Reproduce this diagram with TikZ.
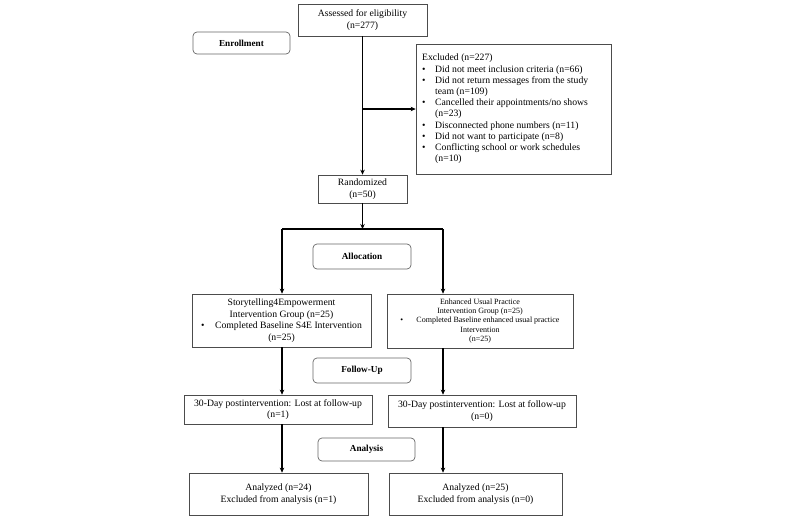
\documentclass[tikz,border=0pt]{standalone}
\usepackage{fontspec}
\setmainfont{Liberation Serif}
\usetikzlibrary{arrows.meta}
\newcommand{\fsn}{\fontsize{9.7}{11.6}\selectfont}
\newcommand{\fse}{\fontsize{9.7}{11.2}\selectfont}
\newcommand{\fss}{\fontsize{8}{9.4}\selectfont}
\newcommand{\fsb}{\fontsize{9.2}{10}\selectfont\bfseries}
\newcommand{\bul}{\makebox[13pt][l]{\textbullet}}
\tikzset{
  box/.style={draw=black!70, line width=0.7pt, inner sep=0pt, align=center, font=\fsn},
  phase/.style={draw=black!60, line width=0.7pt, rounded corners=4pt, inner sep=0pt, font=\fsb},
  arr/.style={line width=1.6pt, -{Stealth[length=5pt,width=4.5pt]}},
  ln/.style={line width=1.6pt}
}
\begin{document}
\begin{tikzpicture}[x=1pt,y=-1pt]
\useasboundingbox (0,0) rectangle (800,520);
\node[box, minimum width=129pt, minimum height=32pt] (assess) at (362.5,20) {Assessed for eligibility\\(n=277)};
\node[phase, minimum width=97pt, minimum height=22pt] (enroll) at (241.5,43) {Enrollment};
\node[box, minimum width=195pt, minimum height=130pt] (excl) at (513.5,109) {};
\node[anchor=north west, inner sep=0pt, align=left, font=\fse] (excltxt) at (422,54) {Excluded (n=227)\\
\bul Did not meet inclusion criteria (n=66)\\
\bul Did not return messages from the study\\
\hspace*{13pt}team (n=109)\\
\bul Cancelled their appointments/no shows\\
\hspace*{13pt}(n=23)\\
\bul Disconnected phone numbers (n=11)\\
\bul Did not want to participate (n=8)\\
\bul Conflicting school or work schedules\\
\hspace*{13pt}(n=10)};
\node[box, minimum width=89pt, minimum height=28pt] (rand) at (362.5,189) {Randomized\\(n=50)};
\node[phase, minimum width=98pt, minimum height=25pt] (alloc) at (362,256.5) {Allocation};
\node[box, minimum width=179pt, minimum height=53pt] (s4e) at (281.5,320.5) {Storytelling4Empowerment\\Intervention Group (n=25)\\\makebox[13pt][l]{\textbullet}\hspace{1pt}Completed Baseline S4E Intervention\\(n=25)};
\node[box, minimum width=186pt, minimum height=54pt, font=\fss] (eup) at (480,321) {Enhanced Usual Practice\\Intervention Group (n=25)\\\makebox[16pt][l]{\textbullet}Completed Baseline enhanced usual practice\\Intervention\\(n=25)};
\node[phase, minimum width=98pt, minimum height=25pt] (follow) at (362,370.5) {Follow-Up};
\node[box, minimum width=188pt, minimum height=29pt] (fl) at (278,409.5) {30-Day postintervention: Lost at follow-up\\(n=1)};
\node[box, minimum width=188pt, minimum height=32pt] (fr) at (482,411) {30-Day postintervention: Lost at follow-up\\(n=0)};
\node[phase, minimum width=97pt, minimum height=23pt] (anal) at (366.5,449.5) {Analysis};
\node[box, minimum width=179pt, minimum height=42pt] (al) at (278.5,494) {Analyzed (n=24)\\Excluded from analysis (n=1)};
\node[box, minimum width=173pt, minimum height=42pt] (ar) at (475.5,494) {Analyzed (n=25)\\Excluded from analysis (n=0)};
\coordinate (xc) at (362.5,0);
\coordinate (xl) at (282,0);
\coordinate (xr) at (443,0);
\coordinate (br) at (362.5,109);
\coordinate (split) at (362.5,229);
\coordinate (sl) at (282,229);
\coordinate (sr) at (443,229);
\draw[arr] (assess.south -| xc) -- (rand.north -| xc);
\draw[arr] (br) -- (excl.west |- br);
\draw[arr] (rand.south -| xc) -- (split);
\draw[ln] (sl) -- (sr);
\draw[arr] (sl) -- (s4e.north -| xl);
\draw[arr] (sr) -- (eup.north -| xr);
\draw[arr] (s4e.south -| xl) -- (fl.north -| xl);
\draw[arr] (eup.south -| xr) -- (fr.north -| xr);
\draw[arr] (fl.south -| xl) -- (al.north -| xl);
\draw[arr] (fr.south -| xr) -- (ar.north -| xr);
\end{tikzpicture}
\end{document}
